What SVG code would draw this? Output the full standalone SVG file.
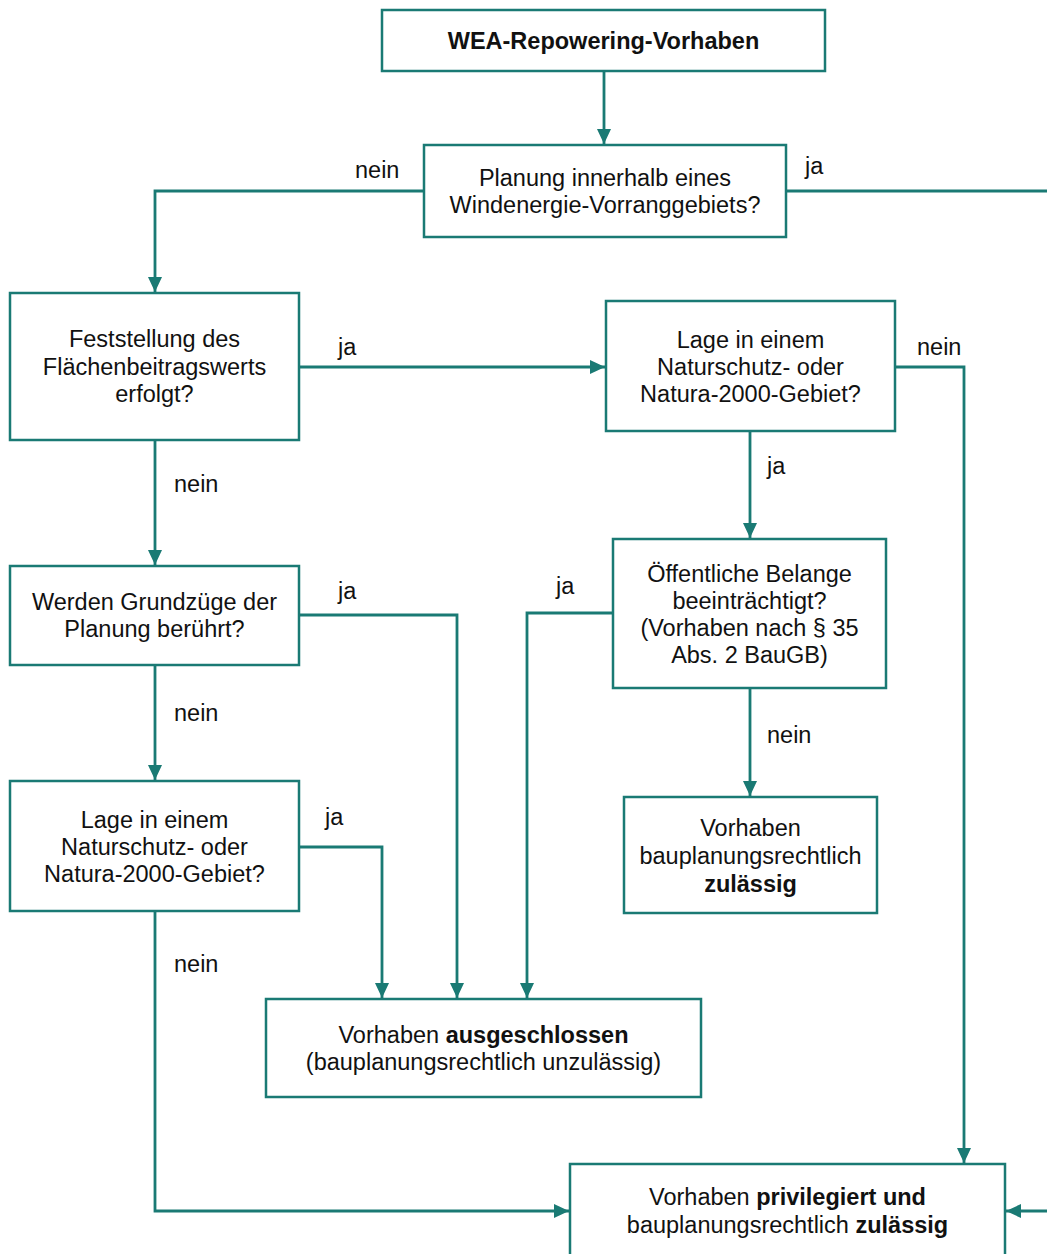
<svg xmlns="http://www.w3.org/2000/svg" width="1047" height="1254" viewBox="0 0 1047 1254">
<style>
.box{fill:#fff;stroke:#1a7a74;stroke-width:2.5}
.t{font-family:"Liberation Sans",Arial,sans-serif;font-size:23.5px;fill:#111;text-anchor:middle}
.b{font-weight:bold}
.l{font-family:"Liberation Sans",Arial,sans-serif;font-size:23.5px;fill:#111}
.c{fill:none;stroke:#1a7a74;stroke-width:2.8}
</style>
<defs>
<marker id="ah" markerUnits="userSpaceOnUse" markerWidth="16" markerHeight="16" viewBox="0 0 16 16" refX="15" refY="8" orient="auto">
<path d="M0,1 L15,8 L0,15 Z" fill="#1a7a74"/>
</marker>
</defs>
<rect width="1047" height="1254" fill="#fff"/>
<g id="connectors">
<path class="c" d="M604,71 V144" marker-end="url(#ah)"/>
<path class="c" d="M424,191 H155 V292" marker-end="url(#ah)"/>
<path class="c" d="M786,191 H1065 V1211 H1006" marker-end="url(#ah)"/>
<path class="c" d="M299,367 H605" marker-end="url(#ah)"/>
<path class="c" d="M895,367 H964 V1163" marker-end="url(#ah)"/>
<path class="c" d="M750,431 V538" marker-end="url(#ah)"/>
<path class="c" d="M613,613 H527 V998" marker-end="url(#ah)"/>
<path class="c" d="M750,688 V796" marker-end="url(#ah)"/>
<path class="c" d="M155,440 V565" marker-end="url(#ah)"/>
<path class="c" d="M299,615 H457 V998" marker-end="url(#ah)"/>
<path class="c" d="M155,665 V780" marker-end="url(#ah)"/>
<path class="c" d="M299,847 H382 V998" marker-end="url(#ah)"/>
<path class="c" d="M155,911 V1211 H569" marker-end="url(#ah)"/>
<text class="l" x="355" y="178">nein</text>
<text class="l" x="805" y="174">ja</text>
<text class="l" x="338" y="355">ja</text>
<text class="l" x="917" y="355">nein</text>
<text class="l" x="767" y="474">ja</text>
<text class="l" x="556" y="594">ja</text>
<text class="l" x="767" y="743">nein</text>
<text class="l" x="174" y="492">nein</text>
<text class="l" x="338" y="599">ja</text>
<text class="l" x="174" y="721">nein</text>
<text class="l" x="325" y="825">ja</text>
<text class="l" x="174" y="972">nein</text>
</g>
<g id="n-start">
<rect class="box" x="382" y="10" width="443" height="61"/>
<text class="t b" x="603.5" y="49">WEA-Repowering-Vorhaben</text>
</g>
<g id="n-planung">
<rect class="box" x="424" y="145" width="362" height="92"/>
<text class="t" x="605" y="186">Planung innerhalb eines</text>
<text class="t" x="605" y="213">Windenergie-Vorranggebiets?</text>
</g>
<g id="n-feststellung">
<rect class="box" x="10" y="293" width="289" height="147"/>
<text class="t" x="154.5" y="347">Feststellung des</text>
<text class="t" x="154.5" y="375">Flächenbeitragswerts</text>
<text class="t" x="154.5" y="402">erfolgt?</text>
</g>
<g id="n-lage1">
<rect class="box" x="606" y="301" width="289" height="130"/>
<text class="t" x="750.5" y="348">Lage in einem</text>
<text class="t" x="750.5" y="375">Naturschutz- oder</text>
<text class="t" x="750.5" y="402">Natura-2000-Gebiet?</text>
</g>
<g id="n-belange">
<rect class="box" x="613" y="539" width="273" height="149"/>
<text class="t" x="749.5" y="582">Öffentliche Belange</text>
<text class="t" x="749.5" y="609">beeinträchtigt?</text>
<text class="t" x="749.5" y="636">(Vorhaben nach § 35</text>
<text class="t" x="749.5" y="663">Abs. 2 BauGB)</text>
</g>
<g id="n-werden">
<rect class="box" x="10" y="566" width="289" height="99"/>
<text class="t" x="154.5" y="610">Werden Grundzüge der</text>
<text class="t" x="154.5" y="637">Planung berührt?</text>
</g>
<g id="n-zulaessig">
<rect class="box" x="624" y="797" width="253" height="116"/>
<text class="t" x="750.5" y="836">Vorhaben</text>
<text class="t" x="750.5" y="864">bauplanungsrechtlich</text>
<text class="t b" x="750.5" y="892">zulässig</text>
</g>
<g id="n-lage2">
<rect class="box" x="10" y="781" width="289" height="130"/>
<text class="t" x="154.5" y="828">Lage in einem</text>
<text class="t" x="154.5" y="855">Naturschutz- oder</text>
<text class="t" x="154.5" y="882">Natura-2000-Gebiet?</text>
</g>
<g id="n-ausgeschlossen">
<rect class="box" x="266" y="999" width="435" height="98"/>
<text class="t" x="483.5" y="1043">Vorhaben <tspan class="b">ausgeschlossen</tspan></text>
<text class="t" x="483.5" y="1070">(bauplanungsrechtlich unzulässig)</text>
</g>
<g id="n-privilegiert">
<rect class="box" x="570" y="1164" width="435" height="100"/>
<text class="t" x="787.5" y="1205">Vorhaben <tspan class="b">privilegiert und</tspan></text>
<text class="t" x="787.5" y="1233">bauplanungsrechtlich <tspan class="b">zulässig</tspan></text>
</g>
</svg>
